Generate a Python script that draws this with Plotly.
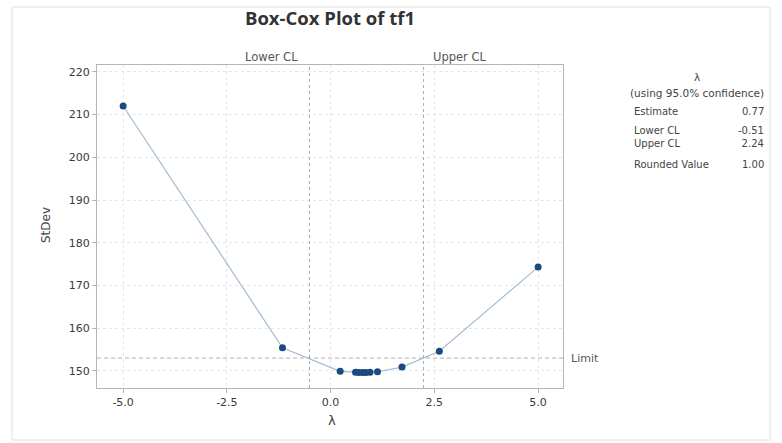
import plotly.graph_objects as go

lam = [-5.0, -1.16, 0.23, 0.6, 0.68, 0.77, 0.85, 0.95, 1.13, 1.72, 2.62, 5.0]
stdev = [212.0, 155.4, 149.9, 149.7, 149.6, 149.6, 149.6, 149.7, 149.8, 150.9, 154.6, 174.3]
limit = 153.0
lower_cl = -0.51
upper_cl = 2.24
estimate = 0.77
rounded = 1.00
x_ticks = [-5.0, -2.5, 0.0, 2.5, 5.0]
y_ticks = [150, 160, 170, 180, 190, 200, 210, 220]

FONT = "DejaVu Sans"
L, R, T, B = 97, 563, 65, 388
W, H = R - L, B - T

def px(xp):
    return (xp - L) / W

def py(yp):
    return (B - yp) / H

fig = go.Figure()
fig.add_trace(go.Scatter(
    x=lam, y=stdev, mode="lines+markers",
    line=dict(color="#a3bbd3", width=1.2),
    marker=dict(color="#1b4a80", size=7),
    showlegend=False, hoverinfo="skip"))

fig.update_layout(
    width=782, height=443,
    margin=dict(l=L, r=782 - R, t=T, b=443 - B),
    paper_bgcolor="white", plot_bgcolor="white",
    font=dict(family=FONT, color="#444", size=11),
    title=dict(text="<b>Box-Cox Plot of tf1</b>", x=330 / 782, xanchor="center",
               y=1 - 19 / 443, yanchor="middle",
               font=dict(size=18.5, color="#333", family="Open Sans")),
    xaxis=dict(range=[-5.63, 5.6], tickvals=x_ticks, ticktext=["-5.0", "-2.5", "0.0", "2.5", "5.0"],
               showgrid=True, gridcolor="#e6e6e6", griddash="dot", zeroline=False,
               showline=True, linecolor="#b5b5b5", linewidth=1, mirror=True,
               ticks="outside", ticklen=4, tickcolor="#b5b5b5",
               tickfont=dict(size=11, color="#3a3a3a")),
    yaxis=dict(range=[146, 221.6], tickvals=y_ticks,
               showgrid=True, gridcolor="#e6e6e6", griddash="dot", zeroline=False,
               showline=True, linecolor="#b5b5b5", linewidth=1, mirror=True,
               ticks="outside", ticklen=4, tickcolor="#b5b5b5",
               tickfont=dict(size=11, color="#3a3a3a")),
)

# Axis titles
fig.add_annotation(x=px(332), y=py(420), xref="paper", yref="paper", text="λ", showarrow=False,
                   xanchor="center", yanchor="middle", font=dict(size=13, color="#444"))
fig.add_annotation(x=px(46), y=py(225), xref="paper", yref="paper", text="StDev", showarrow=False,
                   textangle=-90, xanchor="center", yanchor="middle", font=dict(size=12, color="#444"))

# CL lines and limit line
for xv in [lower_cl, upper_cl]:
    fig.add_shape(type="line", xref="x", yref="paper", x0=xv, x1=xv, y0=0, y1=1,
                  line=dict(color="#a8a8a8", width=1, dash="dot"))
fig.add_shape(type="line", xref="paper", yref="y", x0=0, x1=1, y0=limit, y1=limit,
              line=dict(color="#b0b0b0", width=1, dash="4px,3px"))

fig.add_annotation(x=lower_cl, xref="x", y=1, yref="paper", text="Lower CL", showarrow=False,
                   xanchor="right", yanchor="bottom", xshift=-9, yshift=-1,
                   font=dict(size=11.5, color="#555"))
fig.add_annotation(x=upper_cl, xref="x", y=1, yref="paper", text="Upper CL", showarrow=False,
                   xanchor="left", yanchor="bottom", xshift=7, yshift=-1,
                   font=dict(size=11.5, color="#555"))
fig.add_annotation(x=1, xref="paper", y=limit, yref="y", text="Limit", showarrow=False,
                   xanchor="left", yanchor="middle", xshift=6, font=dict(size=11, color="#555"))

# Outer border
fig.add_shape(type="rect", xref="paper", yref="paper",
              x0=px(12), x1=px(770), y0=py(440), y1=py(7),
              line=dict(color="#e0e0e0", width=1))

# Right info panel
PF = 10.5
fig.add_annotation(x=px(697), y=py(77), xref="paper", yref="paper", text="λ", showarrow=False,
                   xanchor="center", yanchor="middle", font=dict(size=PF, color="#444"))
fig.add_annotation(x=px(697), y=py(93), xref="paper", yref="paper", text="(using 95.0% confidence)",
                   showarrow=False, xanchor="center", yanchor="middle", font=dict(size=PF, color="#444"))
rows = [("Estimate", f"{estimate:.2f}", 111),
        ("Lower CL<br>Upper CL", f"{lower_cl:.2f}<br>{upper_cl:.2f}", 137),
        ("Rounded Value", f"{rounded:.2f}", 164)]
for lab, val, yy in rows:
    fig.add_annotation(x=px(632), y=py(yy), xref="paper", yref="paper", text=lab, showarrow=False,
                       xanchor="left", yanchor="middle", align="left", font=dict(size=10, color="#444"))
    fig.add_annotation(x=px(766), y=py(yy), xref="paper", yref="paper", text=val, showarrow=False,
                       xanchor="right", yanchor="middle", align="right", font=dict(size=10, color="#444"))

fig.write_html("out.html", config={"displayModeBar": False},
               post_script="document.body.style.margin='0';")
